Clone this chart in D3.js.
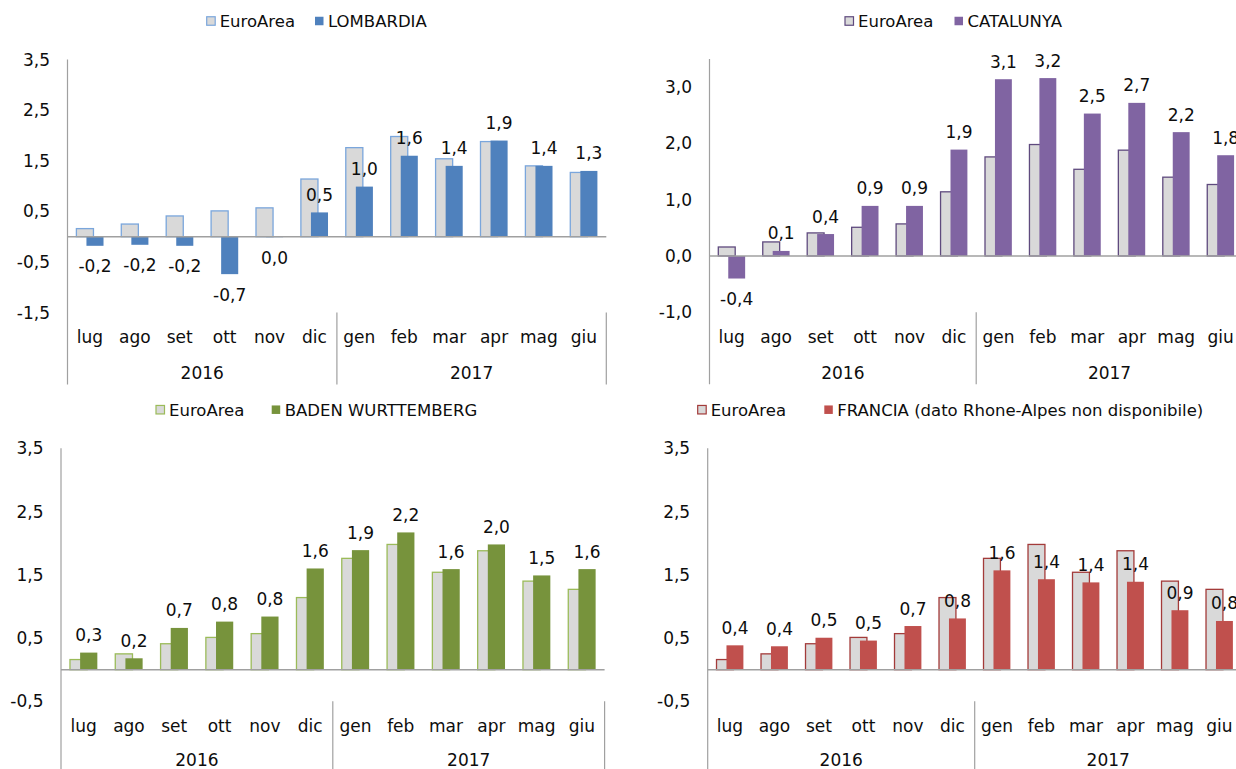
<!DOCTYPE html>
<html>
<head>
<meta charset="utf-8">
<script src="https://cdn.jsdelivr.net/npm/d3@7"></script>
<style>
  html, body { margin: 0; padding: 0; background: #fff; }
  svg { display: block; font-family: "DejaVu Sans", Verdana, sans-serif; }
</style>
</head>
<body>
<svg id="chart" width="1236" height="769"></svg>
<script>
// ---- data ----
const months = ['lug','ago','set','ott','nov','dic','gen','feb','mar','apr','mag','giu'];
const years = ['2016','2017'];
const euroArea  = [0.16, 0.25, 0.41, 0.51, 0.57, 1.14, 1.76, 1.98, 1.54, 1.88, 1.40, 1.27];
const lombardia = [-0.18, -0.16, -0.18, -0.74, -0.01, 0.48, 0.99, 1.60, 1.40, 1.90, 1.40, 1.30];
const catalunya = [-0.40, 0.09, 0.39, 0.89, 0.89, 1.89, 3.14, 3.16, 2.53, 2.72, 2.20, 1.79];
const baden     = [0.27, 0.18, 0.66, 0.76, 0.84, 1.60, 1.89, 2.17, 1.59, 1.98, 1.49, 1.59];
const francia   = [0.385, 0.37, 0.505, 0.46, 0.69, 0.81, 1.57, 1.43, 1.38, 1.39, 0.94, 0.77];
const ticksHalf = [-1.5, -0.5, 0.5, 1.5, 2.5, 3.5];
const ticksUnit = [-1, 0, 1, 2, 3];
const ticksLow  = [-0.5, 0.5, 1.5, 2.5, 3.5];
const euroName = 'EuroArea';

// ---- layout per panel ----
const panels = [
  { name: 'LOMBARDIA', values: lombardia, color: '#4F81BD', euroStroke: '#7AA6DC',
    x0: 67.5, bw: 44.9, yTop: 59.6, yBot: 312.6, domain: [-1.5, 3.5], ticks: ticksHalf,
    legY: 21, leg1: 206.7, leg2: 315, yearOff: 66.5 },
  { name: 'CATALUNYA', values: catalunya, color: '#8064A2', euroStroke: '#5F4A7E',
    x0: 709.5, bw: 44.45, yTop: 58.95, yBot: 312.3, domain: [-1, 3.5], ticks: ticksUnit,
    legY: 21, leg1: 845, leg2: 954.5, yearOff: 66.5 },
  { name: 'BADEN WURTTEMBERG', values: baden, color: '#77933C', euroStroke: '#9BBB59',
    x0: 61, bw: 45.3, yTop: 448.3, yBot: 701.3, domain: [-0.5, 3.5], ticks: ticksLow,
    legY: 409.7, leg1: 156, leg2: 271.7, yearOff: 64.5 },
  { name: 'FRANCIA (dato Rhone-Alpes non disponibile)', values: francia, color: '#C0504D', euroStroke: '#A33B3A',
    x0: 707.7, bw: 44.5, yTop: 448.3, yBot: 701.3, domain: [-0.5, 3.5], ticks: ticksLow,
    legY: 409.7, leg1: 697.7, leg2: 824.3, yearOff: 64.5 }
];

const fmt = v => { let r = Math.round(v * 10) / 10; if (r === 0) r = 0; return r.toFixed(1).replace('.', ','); };
const svg = d3.select('#chart');
const axisGray = '#A0A0A0';
const textColor = '#0d0d0d';

panels.forEach(p => {
  const g = svg.append('g');
  const x = d3.scaleBand().domain(months).range([p.x0, p.x0 + 12 * p.bw]).padding(0);
  const y = d3.scaleLinear().domain(p.domain).range([p.yBot, p.yTop]);
  const bw = x.bandwidth();
  const barW = bw * 0.38;
  const off = bw * 0.112;
  const cx = m => x(m) + bw / 2;

  // y axis
  const ya = g.append('g').attr('transform', `translate(${p.x0},0)`)
    .call(d3.axisLeft(y).tickValues(p.ticks).tickSize(0).tickPadding(17.5).tickFormat(fmt));
  ya.select('.domain').remove();
  ya.selectAll('text').attr('font-size', 17).attr('fill', textColor)
    .attr('font-family', '"DejaVu Sans", Verdana, sans-serif');

  // left axis line (extends through the category area)
  g.append('line').attr('x1', p.x0).attr('x2', p.x0)
    .attr('y1', p.yTop).attr('y2', p.yBot + 72)
    .attr('stroke', axisGray).attr('stroke-width', 1.2);

  // group separators
  [6, 12].forEach(i => {
    const xx = p.x0 + i * bw;
    g.append('line').attr('x1', xx).attr('x2', xx)
      .attr('y1', p.yBot).attr('y2', p.yBot + 72)
      .attr('stroke', axisGray).attr('stroke-width', 1.2);
  });

  // euro bars
  g.selectAll('rect.euro').data(months).join('rect').attr('class', 'euro')
    .attr('x', (m) => cx(m) - off - barW / 2)
    .attr('width', barW)
    .attr('y', (m, i) => y(Math.max(0, euroArea[i])))
    .attr('height', (m, i) => Math.abs(y(euroArea[i]) - y(0)))
    .attr('fill', '#D9D9D9').attr('stroke', p.euroStroke).attr('stroke-width', 1.3);

  // region bars
  g.selectAll('rect.reg').data(months).join('rect').attr('class', 'reg')
    .attr('x', (m) => cx(m) + off - barW / 2)
    .attr('width', barW)
    .attr('y', (m, i) => y(Math.max(0, p.values[i])))
    .attr('height', (m, i) => Math.abs(y(p.values[i]) - y(0)))
    .attr('fill', p.color);

  // zero line
  g.append('line').attr('x1', p.x0).attr('x2', p.x0 + 12 * bw)
    .attr('y1', y(0)).attr('y2', y(0))
    .attr('stroke', axisGray).attr('stroke-width', 1.5);

  // data labels
  g.selectAll('text.lbl').data(months).join('text').attr('class', 'lbl')
    .attr('x', m => cx(m) + off)
    .attr('y', (m, i) => p.values[i] >= 0 ? y(p.values[i]) - 11.5 : y(p.values[i]) + 26.5)
    .attr('text-anchor', 'middle').attr('font-size', 17).attr('fill', textColor)
    .text((m, i) => fmt(p.values[i]));

  // category labels
  g.selectAll('text.cat').data(months).join('text').attr('class', 'cat')
    .attr('x', m => cx(m)).attr('y', p.yBot + 30.7)
    .attr('text-anchor', 'middle').attr('font-size', 17).attr('fill', textColor)
    .text(m => m);

  // year labels
  g.selectAll('text.yr').data(years).join('text').attr('class', 'yr')
    .attr('x', (d, i) => p.x0 + (3 + 6 * i) * bw).attr('y', p.yBot + p.yearOff)
    .attr('text-anchor', 'middle').attr('font-size', 17).attr('fill', textColor)
    .text(d => d);

  // legend
  const sq = 8.5;
  const leg = g.append('g');
  leg.append('rect').attr('x', p.leg1).attr('y', p.legY - sq / 2).attr('width', sq).attr('height', sq)
    .attr('fill', '#D9D9D9').attr('stroke', p.euroStroke).attr('stroke-width', 1.2);
  leg.append('text').attr('x', p.leg1 + sq + 4.5).attr('y', p.legY).attr('dy', '0.36em')
    .attr('font-size', 16.5).attr('fill', textColor).text(euroName);
  leg.append('rect').attr('x', p.leg2).attr('y', p.legY - sq / 2).attr('width', sq).attr('height', sq)
    .attr('fill', p.color);
  leg.append('text').attr('x', p.leg2 + sq + 4.5).attr('y', p.legY).attr('dy', '0.36em')
    .attr('font-size', 16.5).attr('fill', textColor).text(p.name);
});
</script>
</body>
</html>
